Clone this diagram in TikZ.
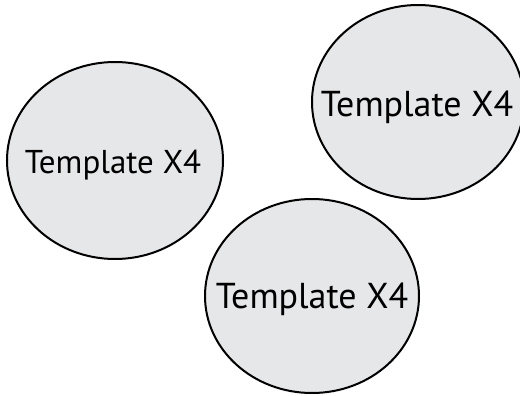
\documentclass[tikz,border=0pt]{standalone}
\usepackage{fontspec}
\setmainfont{PT Sans}
\usetikzlibrary{shapes.geometric}
\definecolor{blobgray}{HTML}{E6E7E8}
\begin{document}
\begin{tikzpicture}[x=1pt,y=-1pt,
  blob/.style={ellipse, draw=black, line width=2pt, fill=blobgray, inner sep=0pt},
  lblsmall/.style={anchor=base, inner sep=0pt, font=\fontsize{33}{40}\selectfont},
  lblbig/.style={anchor=base, inner sep=0pt, font=\fontsize{36}{42}\selectfont}]
\useasboundingbox (0,0) rectangle (520,396);
\node[blob, minimum width=216pt, minimum height=197pt] (e1) at (115,160.5) {};
\node[blob, minimum width=212pt, minimum height=194pt] (e2) at (418,102) {};
\node[blob, minimum width=214pt, minimum height=194pt] (e3) at (312,296) {};
\node[lblsmall] (t1) at (113,173) {Template X4};
\node[lblbig] (t2) at (417,117) {Template X4};
\node[lblbig] (t3) at (312,308) {Template X4};
\end{tikzpicture}
\end{document}
